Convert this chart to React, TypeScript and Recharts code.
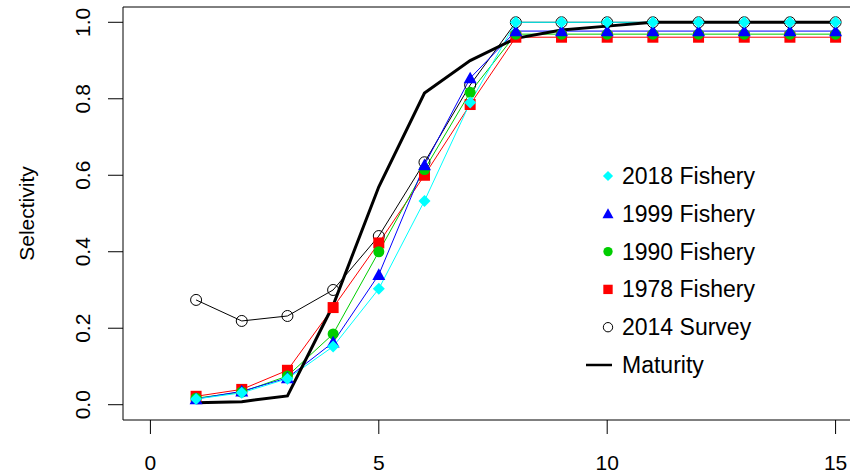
import { LineChart, Line, XAxis, YAxis, ReferenceArea, Legend } from "recharts";

const AGES = [1, 2, 3, 4, 5, 6, 7, 8, 9, 10, 11, 12, 13, 14, 15];
const FISHERY_2018 = [0.015, 0.031, 0.068, 0.152, 0.303, 0.533, 0.79, 1, 1, 1, 1, 1, 1, 1, 1];
const FISHERY_1999 = [0.015, 0.035, 0.07, 0.163, 0.34, 0.627, 0.854, 0.977, 0.977, 0.977, 0.977, 0.977, 0.977, 0.977, 0.977];
const FISHERY_1990 = [0.017, 0.033, 0.075, 0.185, 0.4, 0.615, 0.817, 0.969, 0.969, 0.969, 0.969, 0.969, 0.969, 0.969, 0.969];
const FISHERY_1978 = [0.022, 0.04, 0.09, 0.254, 0.423, 0.6, 0.785, 0.961, 0.961, 0.961, 0.961, 0.961, 0.961, 0.961, 0.961];
const SURVEY_2014 = [0.274, 0.219, 0.232, 0.3, 0.441, 0.634, 0.836, 1, 1, 1, 1, 1, 1, 1, 1];
const MATURITY = [0.005, 0.008, 0.023, 0.26, 0.57, 0.815, 0.9, 0.958, 0.98, 0.99, 1, 1, 1, 1, 1];

const X_TICKS = [0, 5, 10, 15];
const Y_TICKS = [0, 0.2, 0.4, 0.6, 0.8, 1];

const FONT = "'Liberation Sans', Arial, sans-serif";

const data = AGES.map((age, i) => ({
  age,
  f2018: FISHERY_2018[i],
  f1999: FISHERY_1999[i],
  f1990: FISHERY_1990[i],
  f1978: FISHERY_1978[i],
  survey: SURVEY_2014[i],
  maturity: MATURITY[i],
}));

type Shape = "diamond" | "triangle" | "circle" | "square" | "open" | "line";

// legend order, top to bottom
const SERIES: { key: string; label: string; color: string; shape: Shape }[] = [
  { key: "f2018", label: "2018 Fishery", color: "#00ffff", shape: "diamond" },
  { key: "f1999", label: "1999 Fishery", color: "#0000ff", shape: "triangle" },
  { key: "f1990", label: "1990 Fishery", color: "#00cd00", shape: "circle" },
  { key: "f1978", label: "1978 Fishery", color: "#ff0000", shape: "square" },
  { key: "survey", label: "2014 Survey", color: "#000000", shape: "open" },
  { key: "maturity", label: "Maturity", color: "#000000", shape: "line" },
];

function marker(shape: Shape, cx: number, cy: number, color: string, scale = 1) {
  switch (shape) {
    case "diamond": {
      const s = 6 * scale;
      return <polygon points={`${cx},${cy - s} ${cx + s},${cy} ${cx},${cy + s} ${cx - s},${cy}`} fill={color} />;
    }
    case "triangle": {
      const s = 6.5 * scale;
      return <polygon points={`${cx},${cy - s} ${cx + s},${cy + s * 0.8} ${cx - s},${cy + s * 0.8}`} fill={color} />;
    }
    case "circle":
      return <circle cx={cx} cy={cy} r={5.5 * scale} fill={color} />;
    case "square": {
      const s = 5.5 * scale;
      return <rect x={cx - s} y={cy - s} width={s * 2} height={s * 2} fill={color} />;
    }
    case "open":
      return <circle cx={cx} cy={cy} r={5.5 * scale} fill="none" stroke={color} strokeWidth={1} />;
    default:
      return <line x1={cx - 11} y1={cy} x2={cx + 11} y2={cy} stroke={color} strokeWidth={3} />;
  }
}

const makeDot = (shape: Shape, color: string) => (props: any) => {
  const { cx, cy, index } = props;
  if (cx == null || cy == null) return <g key={index} />;
  return <g key={`${shape}-${index}`}>{marker(shape, cx, cy, color)}</g>;
};

const XTick = (props: any) => {
  const { x, payload } = props;
  return (
    <text x={x} y={462} textAnchor="middle" dominantBaseline="central" fontSize={21} fontFamily={FONT} fill="#000">
      {payload.value}
    </text>
  );
};

const YTick = (props: any) => {
  const { y, payload } = props;
  return (
    <text
      x={83}
      y={y}
      transform={`rotate(-90, 83, ${y})`}
      textAnchor="middle"
      dominantBaseline="central"
      fontSize={21}
      fontFamily={FONT}
      fill="#000"
    >
      {Number(payload.value).toFixed(1)}
    </text>
  );
};

const LegendBox = () => (
  <svg width={200} height={230} style={{ display: "block" }}>
    {SERIES.map((s, i) => {
      const cy = 21 + i * 37.8;
      return (
        <g key={s.key}>
          {s.shape === "line"
            ? <line x1={7} y1={cy} x2={33} y2={cy} stroke="#000" strokeWidth={2.5} />
            : marker(s.shape, 29, cy, s.color, 0.85)}
          <text x={43} y={cy} dominantBaseline="central" fontSize={23} fontFamily={FONT} fill="#000">
            {s.label}
          </text>
        </g>
      );
    })}
  </svg>
);

// draw order: survey first, fisheries over it, maturity on top
const DRAW_ORDER = ["survey", "f1978", "f1990", "f1999", "f2018", "maturity"];

export default function App() {
  return (
    <div style={{ position: "absolute", left: 0, top: 0, width: 850, height: 476, overflow: "hidden", background: "#fff" }}>
      <LineChart width={870} height={476} data={data} margin={{ top: 7, right: 7, bottom: 0, left: 0 }}>
        <XAxis
          dataKey="age"
          type="number"
          domain={[-0.6, 15.6]}
          ticks={X_TICKS}
          axisLine={false}
          tickLine={{ stroke: "#000" }}
          tickSize={14}
          height={56}
          tick={<XTick />}
          allowDataOverflow
        />
        <YAxis
          type="number"
          domain={[-0.04, 1.04]}
          ticks={Y_TICKS}
          axisLine={false}
          tickLine={{ stroke: "#000" }}
          tickSize={15}
          width={123}
          tick={<YTick />}
          allowDataOverflow
          label={{
            value: "Selectivity",
            angle: -90,
            position: "insideLeft",
            offset: 0,
            dx: 27,
            style: { fontSize: 21, fontFamily: FONT, fill: "#000", textAnchor: "middle" },
          }}
        />
        <ReferenceArea
          x1={-0.6}
          x2={15.6}
          y1={-0.04}
          y2={1.04}
          fill="none"
          stroke="#000"
          strokeWidth={1}
          fillOpacity={0}
          ifOverflow="visible"
        />
        {DRAW_ORDER.map((key) => {
          const s = SERIES.find((d) => d.key === key)!;
          return (
            <Line
              key={s.key}
              dataKey={s.key}
              name={s.label}
              type="linear"
              stroke={s.color}
              strokeWidth={s.shape === "line" ? 3 : 1}
              dot={s.shape === "line" ? false : makeDot(s.shape, s.color)}
              activeDot={false}
              isAnimationActive={false}
            />
          );
        })}
        <Legend
          layout="horizontal"
          verticalAlign="middle"
          align="center"
          content={<LegendBox />}
          wrapperStyle={{ position: "absolute", left: 579, top: 155, width: 200, height: 230 }}
        />
      </LineChart>
    </div>
  );
}
